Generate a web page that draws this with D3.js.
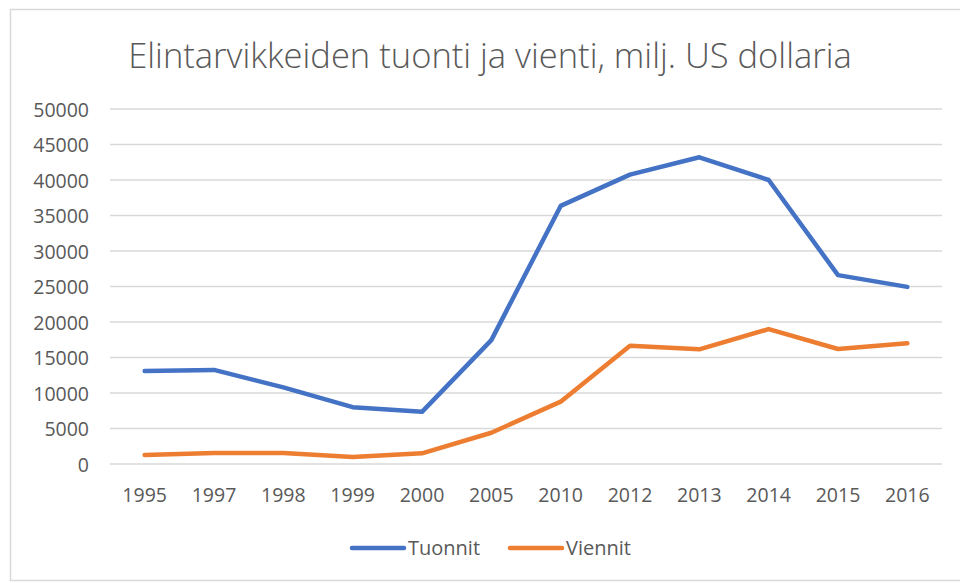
<!DOCTYPE html>
<html><head><meta charset="utf-8">
<script src="https://cdn.jsdelivr.net/npm/d3@7"></script>
<style>body{margin:0;background:#fff}svg{display:block}</style>
</head><body>
<script>
const title = "Elintarvikkeiden tuonti ja vienti, milj. US dollaria";
const years = ["1995","1997","1998","1999","2000","2005","2010","2012","2013","2014","2015","2016"];
const tuonnit = [13100,13250,10800,8000,7350,17450,36350,40750,43200,40000,26600,24950];
const viennit = [1270,1550,1550,1000,1500,4400,8780,16650,16150,19000,16200,17000];
const yTicks = [0,5000,10000,15000,20000,25000,30000,35000,40000,45000,50000];
const seriesNames = ["Tuonnit","Viennit"];
const colors = ["#4472C4","#ED7D31"];

const W=960,H=583;
const svg=d3.select("body").append("svg").attr("width",W).attr("height",H);
const font="'Open Sans', 'Noto Sans', sans-serif";
svg.append("rect").attr("x",10.5).attr("y",9.5).attr("width",980).attr("height",571)
  .attr("fill","#fff").attr("stroke","#d9d9d9").attr("stroke-width",1.5);

const x=d3.scaleBand().domain(years).range([110,942]);
const y=d3.scaleLinear().domain([0,50000]).range([464,109]);

const grid=svg.append("g");
grid.selectAll("line").data(yTicks).join("line")
  .attr("x1",110).attr("x2",942).attr("y1",d=>y(d)).attr("y2",d=>y(d))
  .attr("stroke","#d9d9d9").attr("stroke-width",1.5);

const yAxis=d3.axisLeft(y).tickValues(yTicks).tickSize(0).tickPadding(0).tickFormat(d3.format("d"));
const gy=svg.append("g").attr("transform","translate(89,0)").call(yAxis);
gy.select(".domain").remove();
gy.selectAll("text").attr("font-family",font).attr("font-size",19.5).attr("fill","#595959").attr("dy","0.36em");

const xAxis=d3.axisBottom(x).tickSize(0).tickPadding(0);
const gx=svg.append("g").attr("transform","translate(0,495)").call(xAxis);
gx.select(".domain").remove();
gx.selectAll("text").attr("font-family",font).attr("font-size",19.5).attr("fill","#595959").attr("dy","0.36em");

const line=d3.line().x((d,i)=>x(years[i])+x.bandwidth()/2).y(d=>y(d));
[tuonnit,viennit].forEach((s,k)=>{
  svg.append("path").attr("d",line(s)).attr("fill","none").attr("stroke",colors[k])
    .attr("stroke-width",4.5).attr("stroke-linejoin","round").attr("stroke-linecap","round");
});

const t=svg.append("text").attr("x",490).attr("y",68).attr("text-anchor","middle")
  .attr("font-family",font).attr("font-weight",300).attr("font-size",28).attr("fill","#595959").text(title);
const tw=t.node().getComputedTextLength();
t.attr("font-size",28*724/tw);

const legX=[350,508];
seriesNames.forEach((n,k)=>{
  svg.append("line").attr("x1",legX[k]+2).attr("x2",legX[k]+54).attr("y1",548).attr("y2",548)
    .attr("stroke",colors[k]).attr("stroke-width",4.5).attr("stroke-linecap","round");
  svg.append("text").attr("x",legX[k]+58).attr("y",548).attr("dy","0.36em")
    .attr("font-family",font).attr("font-size",20).attr("fill","#595959").text(n);
});
</script>
</body></html>
